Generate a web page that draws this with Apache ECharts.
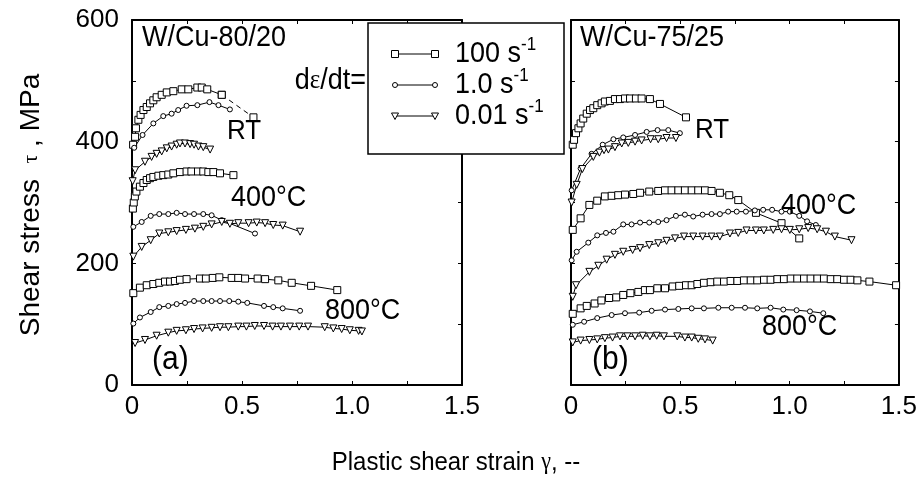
<!DOCTYPE html>
<html>
<head>
<meta charset="utf-8">
<script src="https://cdn.jsdelivr.net/npm/echarts@6/dist/echarts.min.js"></script>
<style>
  html, body { margin: 0; padding: 0; background: #fff; }
  #mychart { width: 920px; height: 485px; }
</style>
</head>
<body>
<div id="mychart"></div>
<script>
// tick labels
var xLabelValues = [0, 0.5, 1.0, 1.5];
var xLabelText = ['0', '0.5', '1.0', '1.5'];
var yLabelValues = [0, 200, 400, 600];

// (a) W/Cu-80/20   [plastic shear strain, shear stress MPa]
var a_RT_100 = [[0.005,395],[0.014,408],[0.018,422],[0.029,436],[0.039,444],[0.052,452],[0.067,457],[0.082,463],[0.097,468],[0.112,473],[0.135,477],[0.158,481],[0.188,483],[0.226,486],[0.256,486],[0.297,489],[0.317,489],[0.342,486],[0.408,477],[0.552,440]];
var a_RT_1 = [[0.01,390],[0.048,411],[0.097,430],[0.142,442],[0.18,446],[0.21,452],[0.248,459],[0.297,460],[0.352,465],[0.393,460],[0.445,453]];
var a_RT_001 = [[0.003,335],[0.014,353],[0.059,367],[0.089,375],[0.112,380],[0.135,384],[0.158,389],[0.18,392],[0.203,395],[0.218,397],[0.241,397],[0.264,396],[0.282,395],[0.302,392],[0.324,391],[0.355,387]];
var a_400_100 = [[0.004,290],[0.008,300],[0.013,310],[0.02,318],[0.036,326],[0.052,332],[0.067,337],[0.082,340],[0.097,342],[0.12,344],[0.142,345],[0.165,346],[0.188,348],[0.218,350],[0.248,351],[0.27,351],[0.3,351],[0.324,351],[0.347,350],[0.37,350],[0.4,348],[0.461,345]];
var a_400_1 = [[0.006,260],[0.044,268],[0.085,278],[0.124,281],[0.165,281],[0.203,283],[0.241,281],[0.282,281],[0.324,281],[0.362,279],[0.408,271],[0.559,249]];
var a_400_001 = [[0.006,211],[0.044,227],[0.085,238],[0.124,249],[0.165,251],[0.203,253],[0.245,255],[0.286,257],[0.324,260],[0.362,264],[0.408,268],[0.445,265],[0.483,266],[0.53,266],[0.567,267],[0.605,266],[0.642,263],[0.685,262],[0.764,252]];
var a_800_100 = [[0.006,151],[0.036,160],[0.067,164],[0.097,166],[0.124,168],[0.15,170],[0.173,170],[0.195,171],[0.218,173],[0.248,174],[0.309,175],[0.336,175],[0.367,176],[0.397,177],[0.453,176],[0.483,176],[0.514,175],[0.571,175],[0.605,174],[0.665,172],[0.726,168],[0.814,163],[0.933,156]];
var a_800_1 = [[0.006,101],[0.036,111],[0.085,120],[0.124,128],[0.165,130],[0.203,133],[0.241,135],[0.282,138],[0.324,138],[0.362,138],[0.4,138],[0.442,138],[0.483,137],[0.524,135],[0.6,130],[0.642,128],[0.685,126],[0.764,122]];
var a_800_001 = [[0.014,69],[0.059,74],[0.112,81],[0.165,86],[0.203,89],[0.245,90],[0.282,92],[0.321,93],[0.362,94],[0.4,95],[0.438,95],[0.483,96],[0.52,96],[0.558,97],[0.6,97],[0.639,96],[0.677,96],[0.718,96],[0.76,96],[0.8,96],[0.876,95],[0.915,93],[0.953,92],[0.99,90],[1.03,89],[1.045,88]];

// (b) W/Cu-75/25
var b_RT_100 = [[0.008,395],[0.014,403],[0.023,414],[0.034,422],[0.044,430],[0.056,438],[0.072,446],[0.087,452],[0.102,455],[0.12,460],[0.14,463],[0.155,466],[0.178,467],[0.201,470],[0.224,470],[0.247,471],[0.27,471],[0.297,471],[0.323,471],[0.361,470],[0.407,462],[0.526,440]];
var b_RT_1 = [[0.003,320],[0.044,356],[0.094,380],[0.145,395],[0.194,404],[0.239,407],[0.293,411],[0.346,416],[0.396,419],[0.445,419],[0.498,414]];
var b_RT_001 = [[0.003,300],[0.026,329],[0.052,355],[0.102,375],[0.13,382],[0.151,386],[0.171,387],[0.201,391],[0.232,397],[0.262,398],[0.293,400],[0.323,402],[0.364,404],[0.399,404],[0.437,406],[0.48,406]];
var b_400_100 = [[0.008,255],[0.044,274],[0.084,296],[0.12,303],[0.155,310],[0.186,311],[0.216,312],[0.247,313],[0.285,314],[0.316,316],[0.358,318],[0.399,319],[0.43,320],[0.46,320],[0.491,320],[0.521,320],[0.552,320],[0.582,320],[0.613,320],[0.643,319],[0.681,316],[0.724,312],[0.765,304],[0.846,283],[0.963,266],[1.044,241]];
var b_400_1 = [[0.003,205],[0.026,219],[0.079,234],[0.12,246],[0.16,250],[0.194,252],[0.239,264],[0.277,264],[0.316,267],[0.358,267],[0.399,268],[0.437,271],[0.48,278],[0.521,280],[0.559,277],[0.602,280],[0.643,281],[0.681,281],[0.719,285],[0.758,285],[0.8,285],[0.841,287],[0.879,288],[0.92,288],[0.963,285],[1.001,285],[1.044,278],[1.08,269],[1.12,263]];
var b_400_001 = [[0.008,145],[0.023,164],[0.084,186],[0.125,196],[0.163,206],[0.201,214],[0.239,219],[0.282,222],[0.316,225],[0.358,230],[0.399,233],[0.437,237],[0.476,241],[0.517,244],[0.559,244],[0.602,244],[0.643,244],[0.681,244],[0.727,249],[0.765,250],[0.803,254],[0.846,254],[0.882,254],[0.925,255],[0.963,256],[1.001,255],[1.044,256],[1.085,258],[1.126,256],[1.166,252],[1.207,244],[1.283,238]];
var b_800_100 = [[0.008,117],[0.044,126],[0.072,130],[0.108,134],[0.139,139],[0.174,143],[0.207,144],[0.239,148],[0.272,151],[0.308,153],[0.338,156],[0.361,156],[0.395,159],[0.43,159],[0.465,162],[0.495,163],[0.526,164],[0.552,164],[0.578,166],[0.608,168],[0.639,169],[0.669,170],[0.7,170],[0.73,171],[0.761,171],[0.791,172],[0.822,172],[0.852,172],[0.883,173],[0.913,173],[0.944,174],[0.974,174],[1.005,175],[1.035,175],[1.066,175],[1.096,175],[1.127,175],[1.157,175],[1.188,174],[1.218,174],[1.249,173],[1.279,173],[1.31,172],[1.365,170],[1.487,164]];
var b_800_1 = [[0.008,99],[0.06,104],[0.12,110],[0.186,115],[0.247,118],[0.312,119],[0.369,122],[0.43,124],[0.491,125],[0.552,126],[0.608,126],[0.674,127],[0.735,127],[0.796,127],[0.852,126],[0.913,127],[0.971,124],[1.032,123],[1.093,121],[1.154,118]];
var b_800_001 = [[0.008,70],[0.044,73],[0.084,74],[0.12,75],[0.155,77],[0.19,78],[0.224,80],[0.258,80],[0.293,80],[0.328,81],[0.361,80],[0.392,81],[0.425,80],[0.486,80],[0.521,78],[0.552,78],[0.582,76],[0.613,75],[0.648,73]];

var FONT = '"Liberation Sans", Arial, sans-serif';
var SERIF = '"Liberation Serif", "DejaVu Serif", serif';

// marker per strain rate
var marks = {
  '100': { symbol: 'rect', size: 7, rotate: 0 },
  '1.0': { symbol: 'circle', size: 5, rotate: 0 },
  '0.01': { symbol: 'triangle', size: 7, rotate: 180 }
};

function curve(data, panel, rate, dashed) {
  var m = marks[rate];
  return {
    type: 'line',
    xAxisIndex: panel * 2,
    yAxisIndex: panel * 2,
    data: data,
    symbol: m.symbol,
    symbolSize: m.size,
    symbolRotate: m.rotate,
    showSymbol: true,
    itemStyle: { color: '#fff', borderColor: '#000', borderWidth: 1 },
    lineStyle: { color: '#000', width: 1, type: dashed ? [5, 4] : 'solid' },
    emphasis: { disabled: true },
    silent: true,
    z: 3
  };
}

function xFmt(v) {
  for (var i = 0; i < xLabelValues.length; i++) {
    if (Math.abs(v - xLabelValues[i]) < 1e-6) return xLabelText[i];
  }
  return '';
}
function yFmt(v) {
  return yLabelValues.indexOf(Math.round(v)) >= 0 ? String(Math.round(v)) : '';
}

function xAx(grid, pos, labels) {
  return {
    gridIndex: grid, type: 'value', position: pos, min: 0, max: 1.5, interval: 0.25,
    axisLine: { onZero: false, lineStyle: { color: '#000', width: 2 } },
    axisTick: { inside: true, length: 4, lineStyle: { color: '#000', width: 1 } },
    axisLabel: { show: labels, formatter: xFmt, color: '#000', fontSize: 26, fontFamily: FONT, margin: 9 },
    splitLine: { show: false }
  };
}
function yAx(grid, pos, labels) {
  return {
    gridIndex: grid, type: 'value', position: pos, min: 0, max: 600, interval: 100,
    axisLine: { onZero: false, lineStyle: { color: '#000', width: 2 } },
    axisTick: { inside: true, length: 4, lineStyle: { color: '#000', width: 1 } },
    axisLabel: { show: labels, formatter: yFmt, color: '#000', fontSize: 26, fontFamily: FONT, margin: 13 },
    splitLine: { show: false }
  };
}

function txt(x, y, text, size, align) {
  return {
    type: 'text', x: x, y: y, z: 100, scaleY: 1.08,
    style: {
      text: text, fill: '#000', font: size + 'px ' + FONT,
      textAlign: align, align: align, textVerticalAlign: 'middle', verticalAlign: 'middle'
    }
  };
}

var legendRows = [
  { rate: '100', label: '100 s', y: 54 },
  { rate: '1.0', label: '1.0 s', y: 85 },
  { rate: '0.01', label: '0.01 s', y: 116 }
];

var graphics = [
  { type: 'rect', z: 90, shape: { x: 368, y: 23, width: 196, height: 131 },
    style: { fill: '#fff', stroke: '#000', lineWidth: 1.5 } }
];
legendRows.forEach(function (r) {
  graphics.push({ type: 'line', z: 100, shape: { x1: 395, y1: r.y, x2: 435, y2: r.y },
    style: { stroke: '#000', lineWidth: 1 } });
  [395, 435].forEach(function (cx) {
    if (r.rate === '100') {
      graphics.push({ type: 'rect', z: 101, shape: { x: cx - 3.5, y: r.y - 3.5, width: 7, height: 7 },
        style: { fill: '#fff', stroke: '#000', lineWidth: 1 } });
    } else if (r.rate === '1.0') {
      graphics.push({ type: 'circle', z: 101, shape: { cx: cx, cy: r.y, r: 2.5 },
        style: { fill: '#fff', stroke: '#000', lineWidth: 1 } });
    } else {
      graphics.push({ type: 'polygon', z: 101, shape: { points: [[cx - 3.5, r.y - 3], [cx + 3.5, r.y - 3], [cx, r.y + 3.5]] },
        style: { fill: '#fff', stroke: '#000', lineWidth: 1 } });
    }
  });
  graphics.push({
    type: 'text', x: 455, y: r.y, z: 100, scaleY: 1.08,
    style: {
      text: '{n|' + r.label + '}{s|-1}', fill: '#000',
      textAlign: 'left', align: 'left', textVerticalAlign: 'middle', verticalAlign: 'middle',
      rich: {
        n: { fontSize: 27, fontFamily: FONT, lineHeight: 34 },
        s: { fontSize: 17, fontFamily: FONT, lineHeight: 16, verticalAlign: 'top' }
      }
    }
  });
});

graphics.push(
  txt(142, 38, 'W/Cu-80/20', 27, 'left'),
  txt(580, 38, 'W/Cu-75/25', 27, 'left'),
  txt(227, 131, 'RT', 26, 'left'),
  txt(231, 198, '400°C', 27, 'left'),
  txt(325, 311, '800°C', 27, 'left'),
  txt(152, 360, '(a)', 30, 'left'),
  txt(695, 130, 'RT', 26, 'left'),
  txt(781, 206, '400°C', 27, 'left'),
  txt(762, 327, '800°C', 27, 'left'),
  txt(592, 360, '(b)', 30, 'left'),
  {
    type: 'text', x: 366, y: 81, z: 100, scaleY: 1.08,
    style: {
      text: '{a|d}{g|ε}{a|/dt=}', fill: '#000',
      textAlign: 'right', align: 'right', textVerticalAlign: 'middle', verticalAlign: 'middle',
      rich: { a: { fontSize: 27, fontFamily: FONT }, g: { fontSize: 25, fontFamily: SERIF } }
    }
  },
  {
    type: 'text', x: 456, y: 463, z: 100, scaleY: 1.1,
    style: {
      text: '{a|Plastic shear strain }{g|γ}{a|, --}', fill: '#000',
      textAlign: 'center', align: 'center', textVerticalAlign: 'middle', verticalAlign: 'middle',
      rich: { a: { fontSize: 24, fontFamily: FONT }, g: { fontSize: 22, fontFamily: SERIF } }
    }
  },
  {
    type: 'text', x: 31, y: 205, rotation: Math.PI / 2, z: 100,
    style: {
      text: '{a|Shear stress  }{g|τ}{a| , MPa}', fill: '#000',
      textAlign: 'center', align: 'center', textVerticalAlign: 'middle', verticalAlign: 'middle',
      rich: { a: { fontSize: 28, fontFamily: FONT }, g: { fontSize: 22, fontFamily: SERIF } }
    }
  }
);

var mychart = echarts.init(document.getElementById('mychart'));
var option = {
  animation: false,
  backgroundColor: '#fff',
  grid: [
    { left: 132, top: 20, width: 330, height: 365 },
    { left: 571, top: 20, width: 328, height: 365 }
  ],
  xAxis: [xAx(0, 'bottom', true), xAx(0, 'top', false), xAx(1, 'bottom', true), xAx(1, 'top', false)],
  yAxis: [yAx(0, 'left', true), yAx(0, 'right', false), yAx(1, 'left', false), yAx(1, 'right', false)],
  series: [
    curve(a_RT_100.slice(0, -1), 0, '100'),
    curve(a_RT_100.slice(-2), 0, '100', true),
    curve(a_RT_1, 0, '1.0'),
    curve(a_RT_001, 0, '0.01'),
    curve(a_400_100, 0, '100'),
    curve(a_400_1, 0, '1.0'),
    curve(a_400_001, 0, '0.01'),
    curve(a_800_100, 0, '100'),
    curve(a_800_1, 0, '1.0'),
    curve(a_800_001, 0, '0.01'),
    curve(b_RT_100, 1, '100'),
    curve(b_RT_1, 1, '1.0'),
    curve(b_RT_001, 1, '0.01'),
    curve(b_400_100, 1, '100'),
    curve(b_400_1, 1, '1.0'),
    curve(b_400_001, 1, '0.01'),
    curve(b_800_100, 1, '100'),
    curve(b_800_1, 1, '1.0'),
    curve(b_800_001, 1, '0.01')
  ],
  graphic: graphics
};
mychart.setOption(option);
</script>
</body>
</html>
